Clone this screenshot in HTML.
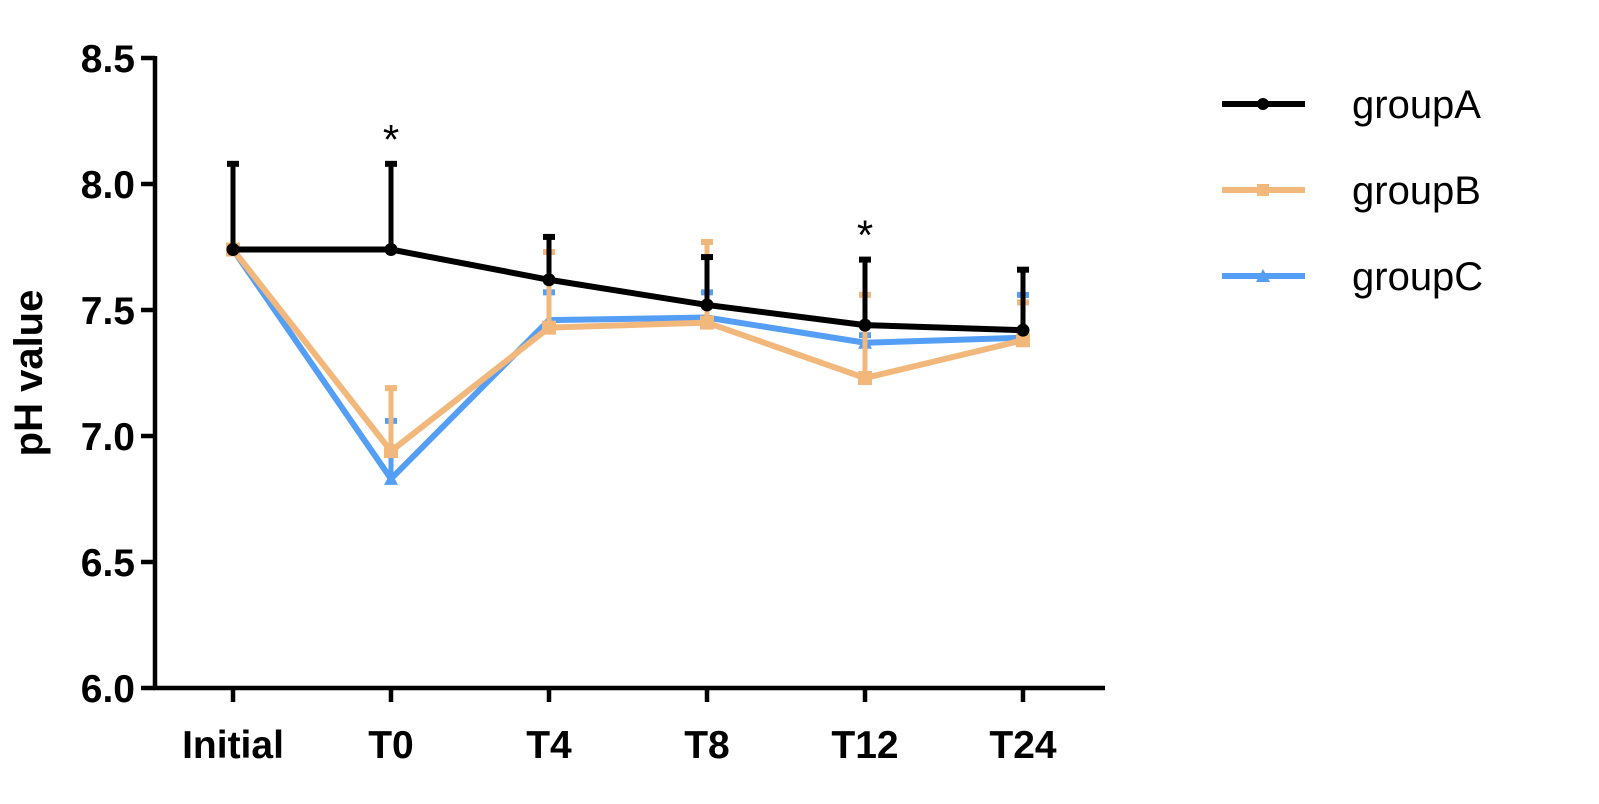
<!DOCTYPE html>
<html><head><meta charset="utf-8"><style>
body{margin:0;background:#fff}
svg{display:block;font-family:"Liberation Sans",Arial,sans-serif}
</style></head><body>
<svg id="chart" width="1599" height="804" viewBox="0 0 1599 804"></svg>
<script>
const categories=["Initial","T0","T4","T8","T12","T24"];
const groupA=[7.74,7.74,7.62,7.52,7.44,7.42];
const groupAErr=[8.08,8.08,7.79,7.71,7.70,7.66];
const groupB=[7.74,6.94,7.43,7.45,7.23,7.38];
const groupBErr=[null,7.19,7.73,7.77,7.56,7.53];
const groupC=[7.74,6.83,7.46,7.47,7.37,7.39];
const groupCErr=[null,7.06,7.57,7.57,7.40,7.56];
const yTicks=[6.0,6.5,7.0,7.5,8.0,8.5];
const yTickLabels=["6.0","6.5","7.0","7.5","8.0","8.5"];
const starCats=["T0","T12"];

const NS="http://www.w3.org/2000/svg";
const svg=document.getElementById('chart');
const x0=155,yTop=58,yBot=688;
function yS(v){return yBot-(v-6.0)/(8.5-6.0)*(yBot-yTop);}
function xS(i){return 233+i*158;}
function mk(tag,attrs,parent){const e=document.createElementNS(NS,tag);for(const k in attrs)e.setAttribute(k,attrs[k]);(parent||svg).appendChild(e);return e;}

let ax=mk('line',{x1:x0,y1:yTop-2,x2:x0,y2:yBot+2,stroke:'#000','stroke-width':4.5});


let xa=mk('line',{x1:x0-2,y1:yBot,x2:1105,y2:yBot,stroke:'#000','stroke-width':4.5});


yTicks.forEach((v,i)=>{
  let t=mk('line',{x1:x0-14,y1:yS(v),x2:x0,y2:yS(v),stroke:'#000','stroke-width':4.5});
  
  
  let l=mk('text',{x:x0-20,y:yS(v)+14,'text-anchor':'end','font-size':39,'font-weight':'bold'});
  l.textContent=yTickLabels[i];
  
  
});
categories.forEach((c,i)=>{
  let t=mk('line',{x1:xS(i),y1:yBot,x2:xS(i),y2:yBot+14,stroke:'#000','stroke-width':4.5});
  
  
  let l=mk('text',{x:xS(i),y:758,'text-anchor':'middle','font-size':39,'font-weight':'bold'});
  l.textContent=c;
  
  
});
let yt=mk('text',{x:42,y:373,'text-anchor':'middle','font-size':40,'font-weight':'bold',transform:'rotate(-90 42 373)'});
yt.textContent='pH value';



function series(vals,errs,color,shape,name){
  const g=mk('g',{});
  
  
  errs.forEach((e,i)=>{
    if(e==null)return;
    let l=mk('line',{x1:xS(i),y1:yS(vals[i]),x2:xS(i),y2:yS(e),stroke:color,'stroke-width':5},g);
    
    
    let c=mk('line',{x1:xS(i)-6,y1:yS(e),x2:xS(i)+6,y2:yS(e),stroke:color,'stroke-width':6},g);
    
    
  });
  let pts=vals.map((v,i)=>xS(i)+','+yS(v)).join(' ');
  let pl=mk('polyline',{points:pts,fill:'none',stroke:color,'stroke-width':6},g);
  
  
  vals.forEach((v,i)=>{
    let m;
    if(shape==='circle')m=mk('circle',{cx:xS(i),cy:yS(v),r:6.5,fill:color},g);
    else if(shape==='square')m=mk('rect',{x:xS(i)-7,y:yS(v)-7,width:14,height:14,fill:color},g);
    else m=mk('polygon',{points:`${xS(i)-7},${yS(v)+6} ${xS(i)+7},${yS(v)+6} ${xS(i)},${yS(v)-7}`,fill:color},g);
    
    
  });
}
series(groupC,groupCErr,'#559ef5','tri','groupC');
series(groupB,groupBErr,'#f2b77a','square','groupB');
series(groupA,groupAErr,'#000','circle','groupA');

starCats.forEach(c=>{
  const i=categories.indexOf(c);
  let s=mk('text',{x:xS(i),y:yS(groupAErr[i])-10,'text-anchor':'middle','font-size':42});
  s.textContent='*';
  
  
});

const legNames=["groupA","groupB","groupC"],legCols=['#000','#f2b77a','#559ef5'],legShapes=['circle','square','tri'];
legNames.forEach((n,i)=>{
  const y=104+i*86;
  const g=mk('g',{});
  
  
  mk('line',{x1:1222,y1:y,x2:1305,y2:y,stroke:legCols[i],'stroke-width':6},g);
  if(legShapes[i]==='circle')mk('circle',{cx:1263,cy:y,r:6,fill:legCols[i]},g);
  else if(legShapes[i]==='square')mk('rect',{x:1257,y:y-6,width:12,height:12,fill:legCols[i]},g);
  else mk('polygon',{points:`1256,${y+6} 1270,${y+6} 1263,${y-7}`,fill:legCols[i]},g);
  let t=mk('text',{x:1352,y:y+14,'font-size':40},g);
  t.textContent=n;
});
</script>
</body></html>
